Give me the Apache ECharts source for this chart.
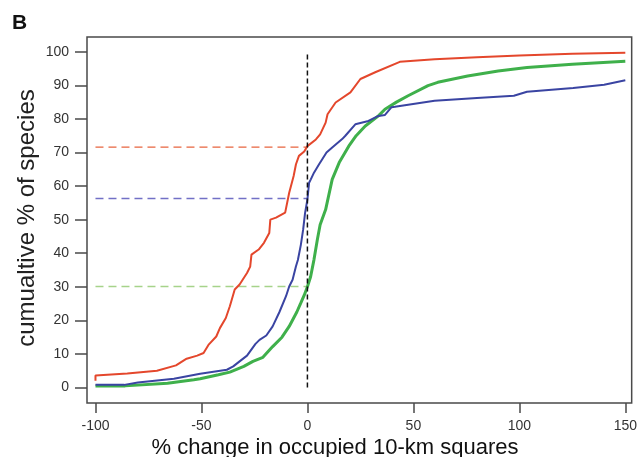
<!DOCTYPE html>
<html>
<head>
<meta charset="utf-8">
<script src="https://cdn.jsdelivr.net/npm/echarts@6/dist/echarts.min.js"></script>
<style>
html,body{margin:0;padding:0;background:#fff;}
#chart{width:640px;height:457px;}
</style>
</head>
<body>
<div id="chart"></div>
<script>
// ---- data ----
var xTicks = [-100, -50, 0, 50, 100, 150];
var yTicks = [0, 10, 20, 30, 40, 50, 60, 70, 80, 90, 100];

var redCurve = [[-100,2.0],[-100,3.6],[-85,4.2],[-71,5.0],[-62,6.6],[-57,8.6],[-52,9.5],[-49,10.3],[-46.7,12.7],[-43,15.2],[-41.3,17.7],[-38.5,20.7],[-36.6,24.2],[-34.3,29.2],[-32,30.7],[-28.5,34.1],[-27,36],[-26.4,39.6],[-23,41.1],[-20.5,43.1],[-18,46],[-17.5,50],[-14.8,50.6],[-10.5,52.1],[-8.6,58],[-6.5,63],[-5.4,66.5],[-4,69],[-1.5,70.3],[0,71.9],[4,73.9],[6,75.4],[8.6,78.9],[9.5,81.4],[13.3,84.9],[20.3,87.9],[25,91.9],[32,93.9],[43.6,97],[60,97.8],[80,98.4],[100,98.9],[125,99.4],[150,99.7]];

var blueCurve = [[-100,0.8],[-86.4,0.8],[-80,1.5],[-63,2.6],[-50.6,4.1],[-38,5.3],[-35,6.3],[-32,7.8],[-28.5,9.5],[-24.5,13],[-22.6,14.2],[-19.4,15.5],[-16.4,18.2],[-13.2,22.5],[-10.1,27.2],[-8.6,30.1],[-7,32.1],[-5.4,36.1],[-4.5,38],[-3.1,42.5],[-2,47.1],[-1.1,52],[0,56],[0.8,61],[1.6,62],[3.1,64],[5.5,66.5],[7,68],[9,70],[11.7,71.5],[16.4,74],[17.9,75],[22.6,78.4],[28.8,79.4],[33.5,80.9],[36.6,81.2],[39.7,83.5],[41.3,83.6],[60,85.4],[80,86.2],[97.4,86.9],[103.6,88.1],[125.4,89.2],[140,90.2],[150,91.5]];

var greenCurve = [[-100,0.5],[-86,0.5],[-66,1.3],[-53.6,2.3],[-50.6,2.6],[-42,3.8],[-36.6,4.6],[-30,6.3],[-25.7,7.8],[-21,9.0],[-16.4,12.2],[-12,15],[-8.6,18.2],[-5,22.5],[-3.1,25.2],[-1.5,27.5],[0,30],[1.5,33],[3.1,38.1],[4.7,44.1],[6,48.5],[8.6,53],[11.7,62],[15,67],[19.5,71.9],[23,75],[27.3,77.9],[33.5,80.9],[36.6,82.9],[42,85],[47.5,86.9],[56.9,89.9],[61.5,90.9],[75.6,92.8],[90,94.3],[103.6,95.3],[125,96.3],[150,97.2]];

var zeroLine = [[0,0],[0,100]];
var redRef = [[-100,71.6],[0,71.6]];
var blueRef = [[-100,56.3],[0,56.3]];
var greenRef = [[-100,30.1],[0,30.1]];

var xTitle = '% change in occupied 10-km squares';
var yTitle = 'cumualtive % of species';
var panelLabel = 'B';

// ---- chart ----
var FONT = '"Liberation Sans", Arial, Helvetica, sans-serif';
var chart = echarts.init(document.getElementById('chart'), null, {renderer:'canvas'});

function curve(data, color, width, z) {
  return {type:'line', data:data, showSymbol:false, symbol:'none', z:z,
          lineStyle:{color:color, width:width}, animation:false, silent:true};
}
function dashed(data, color, width, dash, z) {
  return {type:'line', data:data, showSymbol:false, symbol:'none', z:z,
          lineStyle:{color:color, width:width, type:dash}, animation:false, silent:true};
}

var option = {
  backgroundColor:'#fff',
  animation:false,
  grid:{left:87, top:37, right:4, bottom:54, show:true, borderColor:'#4a4a4a', borderWidth:1.5, backgroundColor:'transparent'},
  xAxis:{
    type:'value', min:-104, max:153,
    splitLine:{show:false},
    axisLine:{show:false, onZero:false},
    axisTick:{show:true, length:10, customValues:xTicks, lineStyle:{color:'#4a4a4a', width:1.5}},
    axisLabel:{customValues:xTicks, color:'#333', fontSize:14, fontFamily:FONT, margin:16}
  },
  yAxis:{
    type:'value', min:-4.6, max:104.4,
    splitLine:{show:false},
    axisLine:{show:false, onZero:false},
    axisTick:{show:true, length:12, customValues:yTicks, lineStyle:{color:'#4a4a4a', width:1.5}},
    axisLabel:{customValues:yTicks, color:'#333', fontSize:14, fontFamily:FONT, margin:18}
  },
  series:[
    dashed(redRef, '#e8643f', 1.3, [8,5], 2),
    dashed(blueRef, '#7270c6', 1.3, [8,5], 2),
    dashed(greenRef, '#a6d38a', 1.5, [8,5], 2),
    curve(greenCurve, '#3fb04b', 3, 3),
    curve(blueCurve, '#3a44a2', 2, 4),
    curve(redCurve, '#e4472c', 2, 5),
    dashed(zeroLine, '#111', 1.5, [5,3], 6)
  ],
  graphic:[
    {type:'text', x:12, y:23, style:{text:panelLabel, font:'bold 21px '+FONT, fill:'#111', verticalAlign:'middle', align:'left'}},
    {type:'text', x:335, y:448, style:{text:xTitle, font:'22px '+FONT, fill:'#111', align:'center', verticalAlign:'middle'}},
    {type:'text', x:27, y:218, rotation:Math.PI/2, style:{text:yTitle, font:'24px '+FONT, fill:'#222', align:'center', verticalAlign:'middle'}}
  ]
};
chart.setOption(option);
</script>
</body>
</html>
